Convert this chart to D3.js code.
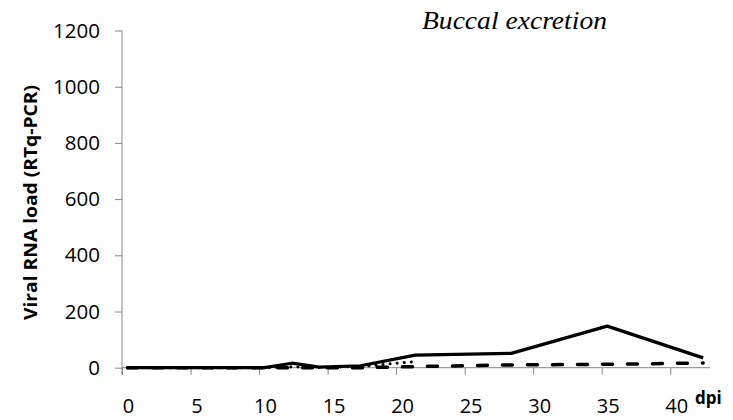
<!DOCTYPE html>
<html>
<head>
<meta charset="utf-8">
<script src="https://cdn.jsdelivr.net/npm/d3@7"></script>
<style>
  html, body { margin: 0; padding: 0; background: #fff; }
  svg { display: block; }
</style>
</head>
<body>
<svg id="chart" width="733" height="420"></svg>
<script>
// Sampling days (dpi) and viral RNA load per group
const days = [0, 7, 10, 12, 14, 17, 21, 28, 35, 42];
const solidSeries  = [0, 0, 0, 16, 2, 7, 45, 51, 148, 35];
const dashedSeries = [0, 0, 0, 0, 0, 0, 4, 10, 12, 17];
const dottedDays   = [0, 7, 10, 12, 14, 17, 21];
const dottedSeries = [0, 0, 0, 3, 1, 4, 22];

const xLabels = [0, 5, 10, 15, 20, 25, 30, 35, 40];
const yTicks = [0, 200, 400, 600, 800, 1000, 1200];

const title = "Buccal excretion";
const yTitle = "Viral RNA load  (RTq-PCR)";
const xTitle = "dpi";

const svg = d3.select("#chart");
const axisColor = "#868686";

const x = d3.scaleLinear().domain([-0.4, 42.5]).range([122, 710]);
const y = d3.scaleLinear().domain([0, 1200]).range([367.7, 30.5]);

// Y axis
const yAxis = svg.append("g")
  .attr("transform", `translate(${x(-0.4)},0)`)
  .call(d3.axisLeft(y).tickValues(yTicks).tickSize(7).tickPadding(15).tickFormat(d3.format("d")));
yAxis.select(".domain").attr("stroke", axisColor).attr("d", `M0,${y(1200)}V${y(0) + 7}`);
yAxis.selectAll(".tick line").attr("stroke", axisColor);
yAxis.selectAll(".tick text")
  .attr("fill", "#000")
  .style("font-family", "'Open Sans', sans-serif")
  .style("font-size", "20.5px");

// X axis line with unlabelled ticks every 5 days
const xTickVals = d3.range(0, 8).map(i => -0.4 + 5 * i).concat([39.6]);
const xAxis = svg.append("g")
  .attr("transform", `translate(0,${y(0)})`)
  .call(d3.axisBottom(x).tickValues(xTickVals).tickSize(7).tickFormat(""));
xAxis.select(".domain").attr("stroke", axisColor).attr("d", `M${x(-0.4)},0H${x(42.5)}`);
xAxis.selectAll(".tick line").attr("stroke", axisColor);

// Day labels placed under their day positions
svg.append("g").selectAll("text")
  .data(xLabels)
  .join("text")
  .attr("x", d => x(d) + 1)
  .attr("y", 413)
  .attr("text-anchor", "middle")
  .style("font-family", "'Open Sans', sans-serif")
  .style("font-size", "20px")
  .text(d => d);

svg.append("text")
  .attr("x", 695)
  .attr("y", 404)
  .style("font-family", "'Open Sans', sans-serif")
  .style("font-weight", "bold")
  .style("font-size", "17px")
  .text(xTitle);

// Y title
svg.append("text")
  .attr("transform", `translate(37,202.5) rotate(-90)`)
  .attr("text-anchor", "middle")
  .attr("textLength", 235)
  .attr("lengthAdjust", "spacingAndGlyphs")
  .style("font-family", "'Open Sans', sans-serif")
  .style("font-weight", "bold")
  .style("font-size", "17.5px")
  .text(yTitle);

// Chart title
svg.append("text")
  .attr("x", 422)
  .attr("y", 29)
  .attr("textLength", 185)
  .attr("lengthAdjust", "spacingAndGlyphs")
  .style("font-family", "'Liberation Serif', 'Times New Roman', serif")
  .style("font-style", "italic")
  .style("font-size", "25px")
  .text(title);

// Series lines
const line = d3.line().x(d => x(d[0])).y(d => y(d[1]));

svg.append("path")
  .datum(dottedDays.map((d, i) => [d, dottedSeries[i]]))
  .attr("d", line)
  .attr("fill", "none")
  .attr("stroke", "#000")
  .attr("stroke-width", 3)
  .attr("stroke-linecap", "round")
  .attr("stroke-dasharray", "0.1,7");

svg.append("path")
  .datum(days.map((d, i) => [d, dashedSeries[i]]))
  .attr("d", line)
  .attr("fill", "none")
  .attr("stroke", "#000")
  .attr("stroke-width", 3.5)
  .attr("stroke-linecap", "round")
  .attr("stroke-dasharray", "10,15");

svg.append("path")
  .datum(days.map((d, i) => [d, solidSeries[i]]))
  .attr("d", line)
  .attr("fill", "none")
  .attr("stroke", "#000")
  .attr("stroke-width", 3.2)
  .attr("stroke-linejoin", "round");
</script>
</body>
</html>
